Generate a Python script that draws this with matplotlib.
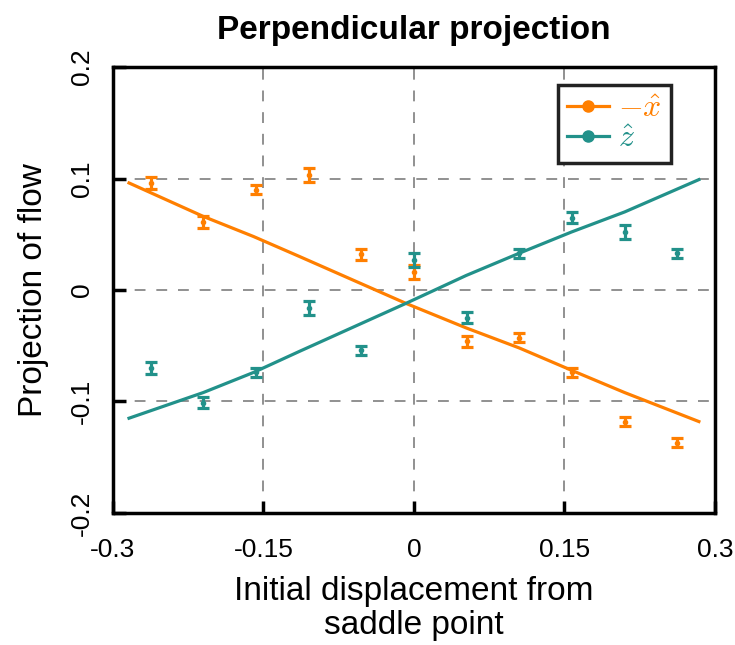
import matplotlib
matplotlib.use("Agg")
import matplotlib.pyplot as plt

# Sample displacements from the saddle point
displacement = [-0.2625, -0.21, -0.1575, -0.105, -0.0525, 0.0, 0.0525, 0.105, 0.1575, 0.21, 0.2625]

# Measured projections with their uncertainties
proj_x = [0.096, 0.061, 0.090, 0.103, 0.032, 0.016, -0.046, -0.043, -0.074, -0.118, -0.137]
err_x = [0.005, 0.005, 0.004, 0.006, 0.005, 0.006, 0.005, 0.004, 0.004, 0.004, 0.004]
proj_z = [-0.070, -0.101, -0.074, -0.016, -0.054, 0.027, -0.025, 0.033, 0.065, 0.052, 0.033]
err_z = [0.005, 0.005, 0.004, 0.006, 0.004, 0.006, 0.005, 0.004, 0.005, 0.006, 0.004]

# Fitted trend curves
fit_pos = [-0.284, -0.21, -0.16, -0.114, -0.008, 0.052, 0.105, 0.157, 0.21, 0.284]
fit_x = [0.096, 0.066, 0.048, 0.030, -0.012, -0.034, -0.052, -0.072, -0.092, -0.118]
fit_z = [-0.115, -0.092, -0.074, -0.055, -0.012, 0.013, 0.033, 0.052, 0.070, 0.099]

x_ticks = [-0.3, -0.15, 0, 0.15, 0.3]
x_tick_labels = ["-0.3", "-0.15", "0", "0.15", "0.3"]
y_ticks = [-0.2, -0.1, 0, 0.1, 0.2]
y_tick_labels = ["-0.2", "-0.1", "0", "0.1", "0.2"]

ORANGE = "#ff7f00"
TEAL = "#22918a"

plt.rcParams["font.family"] = ["Liberation Sans", "DejaVu Sans"]
plt.rcParams["mathtext.fontset"] = "cm"

fig = plt.figure(figsize=(7.35, 6.45), dpi=100)
ax = fig.add_axes([0.1537, 0.2047, 0.819, 0.6914])

for pos in x_ticks[1:-1]:
    ax.axvline(pos, color="#888888", lw=1.3, ls=(0, (6, 6)), zorder=0)
for pos in y_ticks[1:-1]:
    ax.axhline(pos, color="#888888", lw=1.3, ls=(0, (6, 6)), zorder=0)

ax.plot(fit_pos, fit_x, color=ORANGE, lw=2.3, zorder=2)
ax.plot(fit_pos, fit_z, color=TEAL, lw=2.3, zorder=2)

ax.errorbar(displacement, proj_x, yerr=err_x, fmt="o", ms=3, color=ORANGE,
            ecolor=ORANGE, elinewidth=2.3, capsize=4.5, capthick=2.3, zorder=3)
ax.errorbar(displacement, proj_z, yerr=err_z, fmt="o", ms=3, color=TEAL,
            ecolor=TEAL, elinewidth=2.3, capsize=4.5, capthick=2.3, zorder=3)

ax.set_xlim(-0.3, 0.3)
ax.set_ylim(-0.2, 0.2)
ax.set_xticks(x_ticks)
ax.set_xticklabels(x_tick_labels, fontsize=19)
ax.set_yticks(y_ticks)
ax.set_yticklabels(y_tick_labels, fontsize=19, rotation=90, va="center")
ax.tick_params(direction="in", length=9, width=2.5, top=False, right=False)
ax.tick_params(axis="y", pad=14)
ax.tick_params(axis="x", pad=18)
for side in ax.spines.values():
    side.set_linewidth(2.5)

ax.set_xlabel("Initial displacement from\nsaddle point", fontsize=24, labelpad=10, linespacing=1.15)
ax.set_ylabel("Projection of flow", fontsize=24, labelpad=15)
ax.set_title("Perpendicular projection", fontsize=24, fontweight="bold", pad=20)

h1, = ax.plot([], [], color=ORANGE, lw=2.3, marker="o", ms=8)
h2, = ax.plot([], [], color=TEAL, lw=2.3, marker="o", ms=8)
leg = ax.legend([h1, h2], [r"$-\hat{x}$", r"$\hat{z}$"], loc="upper right",
                bbox_to_anchor=(0.927, 0.96), borderaxespad=0, fontsize=23,
                fancybox=False, framealpha=1, edgecolor="#222222",
                handlelength=1.3, handletextpad=0.3, borderpad=0.28,
                labelspacing=0.02)
leg.get_frame().set_linewidth(2.5)
for txt, col in zip(leg.get_texts(), [ORANGE, TEAL]):
    txt.set_color(col)

fig.savefig("out.png", dpi=100)
